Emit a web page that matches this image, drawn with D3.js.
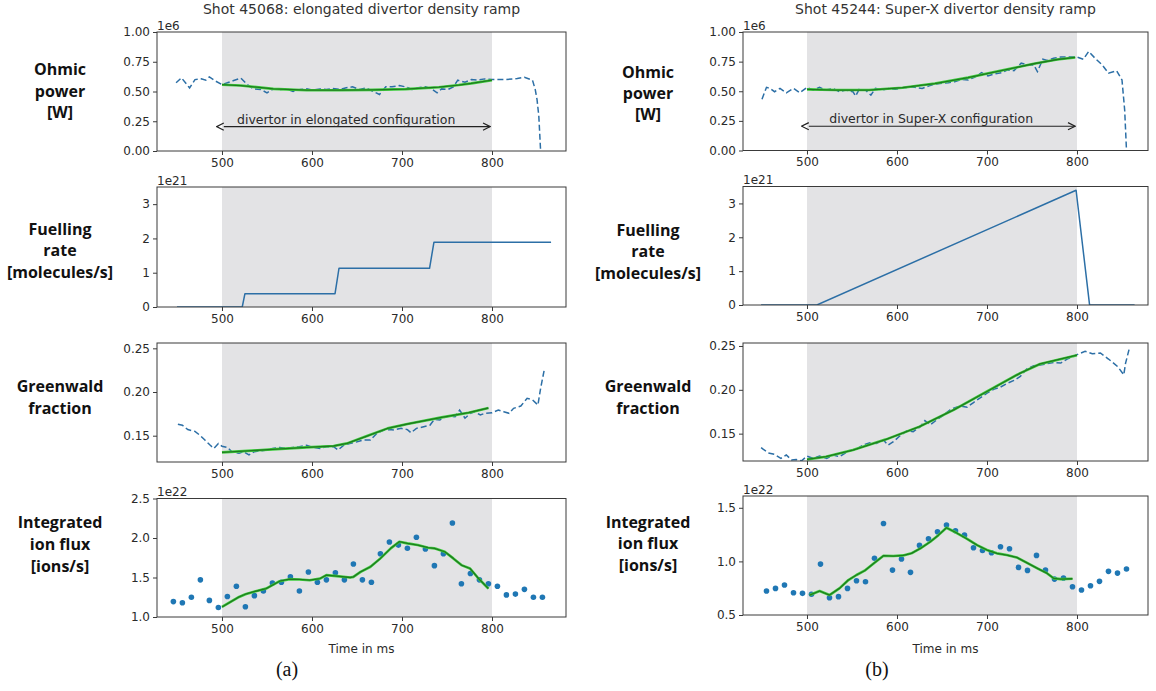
<!DOCTYPE html>
<html><head><meta charset="utf-8">
<script src="https://cdn.jsdelivr.net/npm/d3@7"></script>
<style>
body{margin:0;background:#fff;}
svg text{font-family:"DejaVu Sans",sans-serif;}
</style></head>
<body><svg id="c" width="1156" height="691"></svg>
<script>
// ---------------- data ----------------
const xTicks = [500, 600, 700, 800];
const ohmicTicks = [0, 0.25, 0.5, 0.75, 1.0];
const fuelTicks = [0, 1, 2, 3];
const gwTicks = [0.15, 0.20, 0.25];
const fluxTicksA = [1.0, 1.5, 2.0, 2.5];
const fluxTicksB = [0.5, 1.0, 1.5];
const shadeRange = [500, 800];

// (a) shot 45068
const ohmicA_t = [449,455,464,470,477,482,486,493,500,506,513,521,528,535,543,550,557,565,572,579,587,594,601,609,616,623,631,638,645,653,660,667,675,682,689,697,704,711,718,726,733,739,744,751,757,762,770,777,784,792,800,814,828,836,845,848,850,852,854];
const ohmicA_v = [0.573,0.615,0.53,0.60,0.606,0.595,0.623,0.587,0.559,0.573,0.592,0.612,0.559,0.522,0.517,0.489,0.522,0.517,0.522,0.50,0.517,0.522,0.511,0.522,0.517,0.525,0.517,0.531,0.539,0.517,0.531,0.503,0.475,0.539,0.539,0.550,0.539,0.517,0.531,0.539,0.522,0.489,0.522,0.517,0.539,0.595,0.578,0.60,0.595,0.606,0.60,0.60,0.609,0.62,0.595,0.517,0.433,0.293,0.0];
const ohmicFitA_t = [500,521,557,594,631,667,704,741,763,777,800];
const ohmicFitA_v = [0.557,0.550,0.522,0.511,0.511,0.514,0.520,0.536,0.554,0.568,0.595];
const fuelA_t = [450,522.5,525.5,625.6,630,730.6,735.5,865.6];
const fuelA_v = [0,0,0.39,0.39,1.13,1.13,1.89,1.89];
const gwA_t = [451,456,462,470,476,481,487,491,496,500,506,511,519,524,530,536,543,551,556,564,571,579,586,594,601,609,616,624,629,635,642,650,657,665,672,680,686,691,699,706,710,716,723,731,736,742,747,753,759,764,770,776,781,787,792,800,807,813,819,824,832,839,845,851,854,858];
const gwA_v = [0.163,0.162,0.157,0.155,0.150,0.145,0.139,0.1355,0.141,0.138,0.1366,0.1317,0.130,0.1317,0.128,0.1317,0.1328,0.1336,0.1355,0.1366,0.1355,0.1366,0.1374,0.139,0.1366,0.1355,0.1374,0.1374,0.1336,0.139,0.141,0.143,0.145,0.145,0.1527,0.1565,0.157,0.1565,0.1584,0.157,0.1534,0.1584,0.160,0.162,0.1687,0.168,0.171,0.1725,0.1717,0.1794,0.170,0.1756,0.1775,0.1737,0.1756,0.1763,0.1794,0.1775,0.1756,0.1813,0.184,0.1928,0.191,0.1851,0.2042,0.2252];
const gwFitA_t = [500,556,594,624,639,661,684,706,744,774,796];
const gwFitA_v = [0.1309,0.1343,0.1366,0.1382,0.1412,0.1496,0.1584,0.1634,0.171,0.1763,0.1817];
const fluxA_t = [446,456,466,476,486,496,506,516,526,536,546,556,566,576,586,596,606,616,626,636,646,656,666,676,686,696,706,716,726,736,746,756,766,776,786,796,806,816,826,836,846,856];
const fluxA_v = [1.195,1.18,1.25,1.47,1.21,1.12,1.26,1.39,1.13,1.27,1.33,1.43,1.44,1.51,1.33,1.57,1.44,1.47,1.56,1.47,1.67,1.47,1.44,1.80,1.95,1.91,1.87,2.01,1.86,1.65,1.80,2.19,1.42,1.55,1.47,1.42,1.39,1.28,1.29,1.35,1.25,1.25];
const fluxFitA_t = [500,519,526,537.5,549,564,575,586,597.5,609,616,627.5,642.5,646,654,665,676,687.5,697,706,717.5,729,736,747.5,757,766,775.6,785,796];
const fluxFitA_v = [1.127,1.254,1.288,1.326,1.36,1.453,1.479,1.475,1.466,1.487,1.53,1.517,1.50,1.508,1.572,1.636,1.742,1.869,1.953,1.932,1.911,1.877,1.869,1.826,1.742,1.657,1.614,1.487,1.36];

// (b) shot 45244
const ohmicB_t = [450,455,459,464,470,477,485,492,500,507,514,521,529,536,543,551,554,558,565,571,576,584,591,598,606,613,620,628,635,642,650,657,664,672,679,686,694,701,708,716,723,730,738,745,752,756,762,767,774,782,789,800,807,813,820,828,835,844,850,853,855];
const ohmicB_v = [0.433,0.533,0.524,0.496,0.524,0.487,0.524,0.487,0.533,0.51,0.533,0.51,0.524,0.496,0.51,0.496,0.459,0.516,0.51,0.467,0.524,0.51,0.524,0.516,0.53,0.533,0.533,0.524,0.544,0.561,0.567,0.572,0.581,0.60,0.595,0.618,0.657,0.629,0.646,0.657,0.68,0.674,0.737,0.722,0.722,0.666,0.77,0.759,0.779,0.788,0.788,0.788,0.77,0.836,0.779,0.722,0.652,0.674,0.595,0.34,0];
const ohmicFitB_t = [500,532,569,606,642,679,716,752,778,798];
const ohmicFitB_v = [0.516,0.51,0.51,0.530,0.565,0.615,0.675,0.732,0.768,0.785];
const fuelB_t = [449,511,799,814,864];
const fuelB_v = [0,0,3.39,0,0];
const gwB_t = [449,457,464,471,477,483,488,494,500,507,514,522,529,536,542,547,555,562,570,577,585,590,596,603,611,618,626,631,637,644,652,659,663,670,678,685,692,700,708,715,723,730,737,744,752,759,767,774,782,789,800,809,817,826,835,845,852,854,858];
const gwB_v = [0.134,0.128,0.1263,0.1218,0.1256,0.120,0.1206,0.119,0.1244,0.1218,0.1244,0.1218,0.1256,0.1237,0.1275,0.1305,0.132,0.137,0.1397,0.1389,0.1427,0.137,0.1408,0.1473,0.1534,0.1523,0.158,0.1649,0.16,0.1656,0.1714,0.1771,0.179,0.1817,0.1802,0.1855,0.1905,0.1962,0.2008,0.2031,0.2076,0.2107,0.2153,0.2237,0.2275,0.2283,0.2298,0.2313,0.2305,0.2351,0.2401,0.2439,0.2412,0.242,0.2351,0.2267,0.2172,0.2305,0.2466];
const gwFitB_t = [500,521,551,588,625,663,700,737,759,800];
const gwFitB_v = [0.1206,0.1237,0.1313,0.1435,0.158,0.1771,0.1981,0.2191,0.2295,0.2395];
const fluxB_t = [455,465,475,485,495,505,515,525,535,545,555,565,575,585,595,605,615,625,635,645,655,665,675,685,695,705,715,725,735,745,755,765,775,785,795,805,815,825,835,845,855];
const fluxB_v = [0.724,0.748,0.78,0.708,0.702,0.693,0.975,0.661,0.671,0.748,0.82,0.81,1.03,1.354,0.919,1.022,0.898,1.149,1.211,1.276,1.339,1.286,1.245,1.127,1.102,1.081,1.137,1.118,0.944,0.916,1.056,0.919,0.835,0.845,0.764,0.733,0.773,0.814,0.907,0.891,0.929];
const fluxFitB_t = [503,514,525,536,546,555,564,574,585,596,607,616,626,637,646,655,666,677,689,700,711,722,733,744,756,767,774,782,795];
const fluxFitB_v = [0.686,0.724,0.686,0.748,0.826,0.873,0.913,0.981,1.053,1.05,1.056,1.075,1.121,1.183,1.245,1.314,1.267,1.214,1.152,1.106,1.075,1.059,1.037,0.988,0.935,0.888,0.842,0.835,0.838];

const titles = ["Shot 45068: elongated divertor density ramp", "Shot 45244: Super-X divertor density ramp"];
const annotations = ["divertor in elongated configuration", "divertor in Super-X configuration"];
const rowLabels = [["Ohmic","power","[W]"],["Fuelling","rate","[molecules/s]"],["Greenwald","fraction"],["Integrated","ion flux","[ions/s]"]];
const offsets = ["1e6","1e21",null,"1e22"];
const xLabel = "Time in ms";
const subLabels = ["(a)", "(b)"];

// ---------------- layout ----------------
const svg = d3.select("#c");
const BLUE = "#2c6fa6", DOT = "#1f77b4", SHADE = "#e3e3e5", FRAME = "#3a3a3a", TXT = "#2a2a2a";
const cols = [
  {x0:157, x1:566, dom:[427.8,882.2], labelX:60, rows:[
    {top:32, bot:151, dom:[0,1], ticks:ohmicTicks, fmt:d3.format(".2f")},
    {top:187, bot:307, dom:[0,3.5], ticks:fuelTicks, fmt:d3.format("d")},
    {top:343, bot:462, dom:[0.1199,0.2561], ticks:gwTicks, fmt:d3.format(".2f")},
    {top:498.5, bot:617, dom:[1.0,2.5], ticks:fluxTicksA, fmt:d3.format(".1f")}],
   labelY:[[69,91,112],[229,250,272],[386,408],[522,544,566]]},
  {x0:743, x1:1148, dom:[428.9,878.9], labelX:648, rows:[
    {top:32, bot:150.5, dom:[0,1], ticks:ohmicTicks, fmt:d3.format(".2f")},
    {top:186.5, bot:305, dom:[0,3.5], ticks:fuelTicks, fmt:d3.format("d")},
    {top:343, bot:461, dom:[0.1188,0.2534], ticks:gwTicks, fmt:d3.format(".2f")},
    {top:496, bot:615, dom:[0.5,1.61], ticks:fluxTicksB, fmt:d3.format(".1f")}],
   labelY:[[72,93,114],[230,251,273],[386,408],[522,543,565]]}
];
const series = [
  [{dash:[ohmicA_t,ohmicA_v], fit:[ohmicFitA_t,ohmicFitA_v]},
   {solid:[fuelA_t,fuelA_v]},
   {dash:[gwA_t,gwA_v], fit:[gwFitA_t,gwFitA_v]},
   {dots:[fluxA_t,fluxA_v], fit:[fluxFitA_t,fluxFitA_v]}],
  [{dash:[ohmicB_t,ohmicB_v], fit:[ohmicFitB_t,ohmicFitB_v]},
   {solid:[fuelB_t,fuelB_v]},
   {dash:[gwB_t,gwB_v], fit:[gwFitB_t,gwFitB_v]},
   {dots:[fluxB_t,fluxB_v], fit:[fluxFitB_t,fluxFitB_v]}]
];

const defs = svg.append("defs");
["s","e"].forEach(k=>{
  defs.append("marker").attr("id","arr"+k).attr("viewBox","0 0 10 10").attr("refX",k==="e"?9:1).attr("refY",5)
    .attr("markerWidth",9).attr("markerHeight",9).attr("orient","auto-start-reverse").attr("markerUnits","userSpaceOnUse")
    .append("path").attr("d","M1,1 L9,5 L1,9").attr("fill","none").attr("stroke","#222").attr("stroke-width",1.3);
});

cols.forEach((col, ci) => {
  const x = d3.scaleLinear().domain(col.dom).range([col.x0, col.x1]);
  col.rows.forEach((r, ri) => {
    const clipId = `clip${ci}${ri}`;
    defs.append("clipPath").attr("id", clipId).append("rect")
      .attr("x", col.x0).attr("y", r.top).attr("width", col.x1-col.x0).attr("height", r.bot-r.top);
    const y = d3.scaleLinear().domain(r.dom).range([r.bot, r.top]);
    const g = svg.append("g");
    g.append("rect").attr("x", x(shadeRange[0])).attr("y", r.top)
      .attr("width", x(shadeRange[1])-x(shadeRange[0])).attr("height", r.bot-r.top).attr("fill", SHADE);
    const s = series[ci][ri];
    const pg = g.append("g").attr("clip-path", `url(#${clipId})`);
    const lineOf = (arr) => d3.line().x((d,i)=>x(arr[0][i])).y((d,i)=>y(arr[1][i]))(arr[0]);
    if (s.dash) pg.append("path").attr("d", lineOf(s.dash)).attr("fill","none").attr("stroke",BLUE)
        .attr("stroke-width",1.5).attr("stroke-dasharray","6,3");
    if (s.solid) pg.append("path").attr("d", lineOf(s.solid)).attr("fill","none").attr("stroke",BLUE)
        .attr("stroke-width",1.5).attr("stroke-linejoin","round");
    if (s.dots) pg.selectAll("circle").data(s.dots[0]).join("circle")
        .attr("cx",(d,i)=>x(s.dots[0][i])).attr("cy",(d,i)=>y(s.dots[1][i])).attr("r",2.8).attr("fill",DOT);
    if (s.fit) {
      pg.append("path").attr("d", lineOf(s.fit)).attr("fill","none").attr("stroke","#3fcf3f").attr("stroke-width",2.6).attr("stroke-linejoin","round");
      pg.append("path").attr("d", lineOf(s.fit)).attr("fill","none").attr("stroke","#1f7a1f").attr("stroke-width",1.3).attr("stroke-linejoin","round");
    }
    const xa = g.append("g").attr("transform", `translate(0,${r.bot})`)
      .call(d3.axisBottom(x).tickValues(xTicks).tickSize(4).tickPadding(3).tickSizeOuter(0));
    const ya = g.append("g").attr("transform", `translate(${col.x0},0)`)
      .call(d3.axisLeft(y).tickValues(r.ticks).tickFormat(r.fmt).tickSize(4).tickPadding(3).tickSizeOuter(0));
    [xa, ya].forEach(a => {
      a.select(".domain").remove();
      a.selectAll("line").attr("stroke", FRAME);
      a.selectAll("text").attr("fill", TXT).style("font-size","12px").style("font-family","DejaVu Sans");
    });
    g.append("rect").attr("x", col.x0).attr("y", r.top).attr("width", col.x1-col.x0).attr("height", r.bot-r.top)
      .attr("fill","none").attr("stroke", FRAME).attr("stroke-width",1);
    if (offsets[ri]) g.append("text").attr("x", col.x0).attr("y", r.top-2.5).text(offsets[ri])
      .attr("fill",TXT).style("font-size","12px");
    if (ri === 0) {
      const ay = y(0.205);
      g.append("line").attr("x1", x(502)).attr("x2", x(798)).attr("y1", ay).attr("y2", ay)
        .attr("stroke","#222").attr("stroke-width",1.1).attr("marker-start","url(#arrs)").attr("marker-end","url(#arre)");
      g.append("text").attr("x", x(638)).attr("y", ay-3).attr("text-anchor","middle").text(annotations[ci])
        .attr("fill",TXT).style("font-size","12.5px");
    }
    rowLabels[ri].forEach((t, li) => {
      g.append("text").attr("x", col.labelX).attr("y", col.labelY[ri][li]).attr("dy","0.35em")
        .attr("text-anchor","middle").text(t).attr("fill","#111")
        .style("font-family","'Open Sans'").style("font-weight","700").style("font-size","16px");
    });
    if (ri === 3) {
      g.append("text").attr("x", (col.x0+col.x1)/2).attr("y", 653).attr("text-anchor","middle").text(xLabel)
        .attr("fill",TXT).style("font-size","12px");
    }
  });
  svg.append("text").attr("x", (col.x0+col.x1)/2).attr("y", 14).attr("text-anchor","middle").text(titles[ci])
    .attr("fill","#333").style("font-size","14px");
  svg.append("text").attr("x", ci===0?287:877).attr("y", 676).attr("text-anchor","middle").text(subLabels[ci])
    .attr("fill","#111").style("font-family","'Liberation Serif'").style("font-size","20px");
});
</script></body></html>
